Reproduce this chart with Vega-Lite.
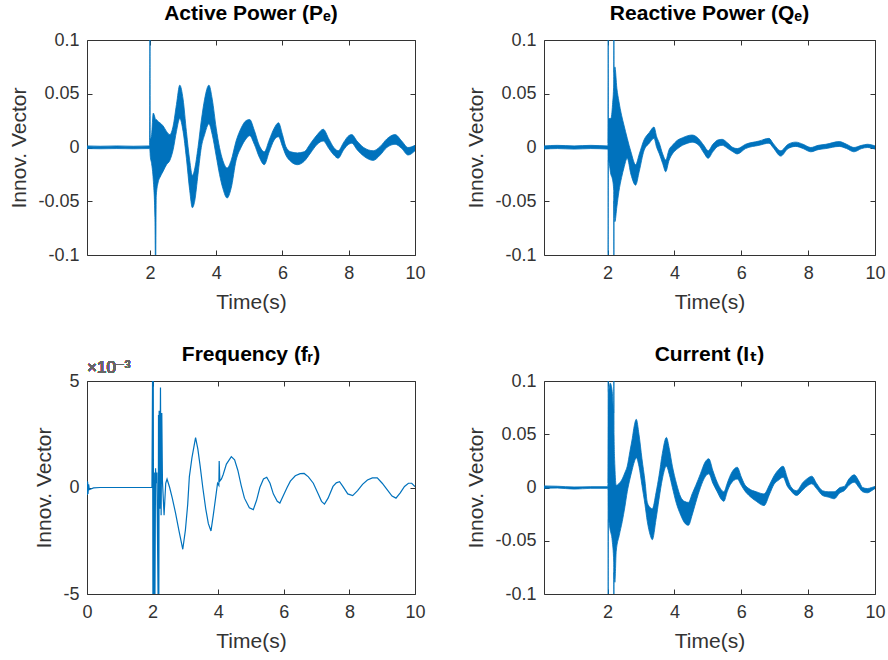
{
  "$schema": "https://vega.github.io/schema/vega-lite/v6.json",
  "padding": {"left": 8, "top": 2, "right": 0, "bottom": 0},
  "background": "white",
  "columns": 2,
  "spacing": {"row": 30, "column": 39},
  "datasets": {
    "P": [
      {"t":0.1,"lo":-0.001,"hi":0.0015},{"t":0.5,"lo":-0.0012,"hi":0.0012},{"t":1.0,"lo":-0.001,"hi":0.0015},{"t":1.5,"lo":-0.0012,"hi":0.0012},{"t":1.99,"lo":-0.001,"hi":0.0015},
      {"t":2.0,"lo":-0.003,"hi":0.12},{"t":2.01,"lo":-0.008,"hi":0.008},{"t":2.05,"lo":-0.015,"hi":0.012},{"t":2.1,"lo":-0.03,"hi":0.032},{"t":2.15,"lo":-0.065,"hi":0.028},
      {"t":2.17,"lo":-0.12,"hi":0.026},{"t":2.19,"lo":-0.045,"hi":0.026},{"t":2.25,"lo":-0.032,"hi":0.024},{"t":2.3,"lo":-0.028,"hi":0.023},{"t":2.4,"lo":-0.022,"hi":0.02},
      {"t":2.5,"lo":-0.016,"hi":0.015},{"t":2.6,"lo":-0.012,"hi":0.012},{"t":2.7,"lo":-0.002,"hi":0.02},{"t":2.8,"lo":0.015,"hi":0.04},{"t":2.9,"lo":0.027,"hi":0.058},
      {"t":3.0,"lo":0.015,"hi":0.045},{"t":3.1,"lo":-0.01,"hi":0.015},{"t":3.2,"lo":-0.04,"hi":-0.012},{"t":3.28,"lo":-0.056,"hi":-0.026},{"t":3.35,"lo":-0.05,"hi":-0.02},
      {"t":3.45,"lo":-0.025,"hi":0.0},{"t":3.55,"lo":0.0,"hi":0.025},{"t":3.65,"lo":0.012,"hi":0.045},{"t":3.78,"lo":0.022,"hi":0.058},{"t":3.88,"lo":0.012,"hi":0.045},
      {"t":4.0,"lo":-0.008,"hi":0.018},{"t":4.1,"lo":-0.025,"hi":0.0},{"t":4.2,"lo":-0.038,"hi":-0.012},{"t":4.33,"lo":-0.047,"hi":-0.019},{"t":4.45,"lo":-0.038,"hi":-0.012},
      {"t":4.6,"lo":-0.012,"hi":0.006},{"t":4.75,"lo":0.0,"hi":0.018},{"t":4.9,"lo":0.008,"hi":0.025},{"t":5.01,"lo":0.011,"hi":0.026},{"t":5.15,"lo":0.003,"hi":0.016},
      {"t":5.3,"lo":-0.009,"hi":0.002},{"t":5.45,"lo":-0.016,"hi":-0.004},{"t":5.6,"lo":-0.004,"hi":0.007},{"t":5.75,"lo":0.007,"hi":0.018},{"t":5.88,"lo":0.01,"hi":0.023},
      {"t":6.0,"lo":0.001,"hi":0.012},{"t":6.1,"lo":-0.007,"hi":0.001},{"t":6.25,"lo":-0.013,"hi":-0.004},{"t":6.45,"lo":-0.016,"hi":-0.005},{"t":6.65,"lo":-0.013,"hi":-0.004},
      {"t":6.85,"lo":-0.005,"hi":0.004},{"t":7.05,"lo":0.003,"hi":0.012},{"t":7.23,"lo":0.006,"hi":0.017},{"t":7.4,"lo":-0.001,"hi":0.008},{"t":7.55,"lo":-0.007,"hi":0.0},
      {"t":7.68,"lo":-0.01,"hi":-0.003},{"t":7.85,"lo":-0.002,"hi":0.005},{"t":8.0,"lo":0.003,"hi":0.011},{"t":8.09,"lo":0.004,"hi":0.012},{"t":8.25,"lo":-0.002,"hi":0.006},
      {"t":8.45,"lo":-0.008,"hi":0.0},{"t":8.74,"lo":-0.012,"hi":-0.003},{"t":8.95,"lo":-0.007,"hi":0.001},{"t":9.15,"lo":0.0,"hi":0.008},{"t":9.4,"lo":0.003,"hi":0.012},
      {"t":9.6,"lo":-0.001,"hi":0.006},{"t":9.79,"lo":-0.007,"hi":0.0},{"t":10.0,"lo":-0.003,"hi":0.002}
    ],
    "Q": [
      {"t":0.1,"lo":-0.0015,"hi":0.0015},{"t":0.5,"lo":-0.001,"hi":0.002},{"t":1.0,"lo":-0.0015,"hi":0.0015},{"t":1.5,"lo":-0.001,"hi":0.002},{"t":2.0,"lo":-0.0015,"hi":0.0015},
      {"t":2.015,"lo":-0.003,"hi":0.004},{"t":2.02,"lo":-0.12,"hi":0.12},{"t":2.025,"lo":-0.012,"hi":0.027},{"t":2.1,"lo":-0.025,"hi":0.027},{"t":2.15,"lo":-0.03,"hi":0.04},
      {"t":2.185,"lo":-0.04,"hi":0.06},{"t":2.19,"lo":-0.12,"hi":0.12},{"t":2.195,"lo":-0.05,"hi":0.07},{"t":2.22,"lo":-0.069,"hi":0.075},{"t":2.28,"lo":-0.055,"hi":0.055},
      {"t":2.34,"lo":-0.041,"hi":0.043},{"t":2.42,"lo":-0.028,"hi":0.03},{"t":2.49,"lo":-0.019,"hi":0.021},{"t":2.59,"lo":-0.01,"hi":0.0085},{"t":2.7,"lo":-0.025,"hi":-0.004},
      {"t":2.84,"lo":-0.035,"hi":-0.016},{"t":2.95,"lo":-0.022,"hi":-0.006},{"t":3.09,"lo":-0.003,"hi":0.007},{"t":3.25,"lo":0.004,"hi":0.014},{"t":3.39,"lo":0.0085,"hi":0.019},
      {"t":3.47,"lo":0.0,"hi":0.01},{"t":3.55,"lo":-0.006,"hi":0.004},{"t":3.65,"lo":-0.015,"hi":-0.006},{"t":3.74,"lo":-0.0225,"hi":-0.0116},{"t":3.84,"lo":-0.012,"hi":-0.002},
      {"t":3.94,"lo":-0.006,"hi":0.002},{"t":4.1,"lo":-0.001,"hi":0.007},{"t":4.24,"lo":0.002,"hi":0.009},{"t":4.4,"lo":0.004,"hi":0.011},{"t":4.53,"lo":0.005,"hi":0.0116},
      {"t":4.73,"lo":0.002,"hi":0.008},{"t":4.88,"lo":-0.005,"hi":0.002},{"t":5.01,"lo":-0.01,"hi":-0.003},{"t":5.15,"lo":-0.004,"hi":0.003},{"t":5.3,"lo":0.001,"hi":0.007},
      {"t":5.43,"lo":0.002,"hi":0.0076},{"t":5.6,"lo":-0.001,"hi":0.004},{"t":5.75,"lo":-0.004,"hi":0.0},{"t":5.88,"lo":-0.006,"hi":-0.001},{"t":6.13,"lo":-0.001,"hi":0.003},
      {"t":6.53,"lo":0.002,"hi":0.006},{"t":6.83,"lo":0.004,"hi":0.0085},{"t":6.95,"lo":0.0,"hi":0.004},{"t":7.18,"lo":-0.008,"hi":-0.003},{"t":7.4,"lo":-0.001,"hi":0.003},
      {"t":7.63,"lo":0.001,"hi":0.005},{"t":7.85,"lo":-0.001,"hi":0.003},{"t":8.08,"lo":-0.004,"hi":0.0},{"t":8.3,"lo":-0.002,"hi":0.002},{"t":8.53,"lo":-0.001,"hi":0.003},
      {"t":8.93,"lo":0.001,"hi":0.0055},{"t":9.15,"lo":-0.001,"hi":0.003},{"t":9.37,"lo":-0.004,"hi":0.0},{"t":9.6,"lo":-0.001,"hi":0.002},{"t":9.77,"lo":0.0,"hi":0.003},
      {"t":10.0,"lo":-0.0015,"hi":0.0015}
    ],
    "F": [
      {"t":0,"v":0.0003},{"t":0.01,"v":-0.00035},{"t":0.02,"v":0.00027},{"t":0.03,"v":-0.0003},{"t":0.05,"v":0.00015},{"t":0.07,"v":-0.0001},{"t":0.1,"v":-0.00008},{"t":0.2,"v":-0.00002},{"t":0.4,"v":0},{"t":1.0,"v":0},{"t":1.98,"v":0},
      {"t":2.0,"v":0.0055},{"t":2.01,"v":-0.0055},{"t":2.02,"v":0.0055},{"t":2.03,"v":-0.0055},{"t":2.05,"v":0.0007},{"t":2.07,"v":-0.0055},{"t":2.09,"v":0.0009},{"t":2.11,"v":0.0002},{"t":2.13,"v":0.0007},
      {"t":2.17,"v":-0.0055},{"t":2.18,"v":0.0034},{"t":2.19,"v":-0.0055},{"t":2.2,"v":0.0036},{"t":2.22,"v":-0.001},{"t":2.24,"v":0.0047},{"t":2.26,"v":-0.0013},{"t":2.28,"v":0.0035},{"t":2.3,"v":0.0003},
      {"t":2.35,"v":-0.0013},{"t":2.4,"v":0.0002},{"t":2.44,"v":0.0004},{"t":2.52,"v":0},{"t":2.6,"v":-0.0005},{"t":2.7,"v":-0.0012},{"t":2.8,"v":-0.002},{"t":2.92,"v":-0.0029},{"t":3.0,"v":-0.002},
      {"t":3.07,"v":-0.0008},{"t":3.12,"v":0.0005},{"t":3.2,"v":0.0014},{"t":3.31,"v":0.00234},{"t":3.38,"v":0.0018},{"t":3.45,"v":0.001},{"t":3.53,"v":0},{"t":3.62,"v":-0.001},{"t":3.7,"v":-0.0017},
      {"t":3.78,"v":-0.00204},{"t":3.85,"v":-0.0013},{"t":3.92,"v":-0.0005},{"t":3.98,"v":0.0002},{"t":4.02,"v":0.0001},{"t":4.03,"v":0.00124},{"t":4.05,"v":0.0003},{"t":4.1,"v":0.0004},{"t":4.15,"v":0.0006},
      {"t":4.25,"v":0.0011},{"t":4.4,"v":0.00145},{"t":4.5,"v":0.0013},{"t":4.6,"v":0.0008},{"t":4.7,"v":0.0001},{"t":4.8,"v":-0.0005},{"t":4.95,"v":-0.00095},{"t":5.07,"v":-0.00104},{"t":5.17,"v":-0.0006},
      {"t":5.27,"v":0},{"t":5.38,"v":0.0004},{"t":5.48,"v":0.00048},{"t":5.58,"v":0.0002},{"t":5.68,"v":-0.0003},{"t":5.8,"v":-0.00065},{"t":5.88,"v":-0.00073},{"t":5.98,"v":-0.0004},{"t":6.1,"v":0},
      {"t":6.2,"v":0.0003},{"t":6.35,"v":0.00055},{"t":6.5,"v":0.00065},{"t":6.62,"v":0.00066},{"t":6.75,"v":0.0005},{"t":6.9,"v":0.0002},{"t":7.05,"v":-0.0003},{"t":7.15,"v":-0.00065},{"t":7.24,"v":-0.00078},
      {"t":7.35,"v":-0.0005},{"t":7.5,"v":0.00005},{"t":7.6,"v":0.00022},{"t":7.7,"v":0.00027},{"t":7.8,"v":0.00005},{"t":7.95,"v":-0.0003},{"t":8.1,"v":-0.00038},{"t":8.25,"v":-0.00015},{"t":8.4,"v":0.00015},
      {"t":8.55,"v":0.00035},{"t":8.7,"v":0.00045},{"t":8.85,"v":0.00045},{"t":9.0,"v":0.0002},{"t":9.15,"v":-0.0001},{"t":9.3,"v":-0.0004},{"t":9.42,"v":-0.0005},{"t":9.55,"v":-0.00025},{"t":9.68,"v":0.00005},
      {"t":9.8,"v":0.0002},{"t":9.9,"v":0.0002},{"t":10.0,"v":0.00004}
    ],
    "I": [
      {"t":0.1,"lo":-0.0008,"hi":0.0015},{"t":0.5,"lo":-0.0005,"hi":0.0012},{"t":1.0,"lo":-0.0015,"hi":0.0005},{"t":1.5,"lo":-0.0008,"hi":0.0008},{"t":2.0,"lo":-0.0008,"hi":0.0008},
      {"t":2.015,"lo":-0.003,"hi":0.004},{"t":2.02,"lo":-0.12,"hi":0.12},{"t":2.025,"lo":-0.03,"hi":0.09},{"t":2.08,"lo":-0.04,"hi":0.098},{"t":2.14,"lo":-0.05,"hi":0.09},
      {"t":2.185,"lo":-0.07,"hi":0.07},{"t":2.19,"lo":-0.12,"hi":0.12},{"t":2.195,"lo":-0.08,"hi":0.05},{"t":2.22,"lo":-0.089,"hi":0.02},{"t":2.26,"lo":-0.06,"hi":0.002},
      {"t":2.35,"lo":-0.045,"hi":0.004},{"t":2.44,"lo":-0.032,"hi":0.008},{"t":2.52,"lo":-0.018,"hi":0.014},{"t":2.59,"lo":-0.004,"hi":0.02},{"t":2.67,"lo":0.008,"hi":0.034},
      {"t":2.74,"lo":0.017,"hi":0.046},{"t":2.8,"lo":0.024,"hi":0.058},{"t":2.86,"lo":0.028,"hi":0.064},{"t":2.94,"lo":0.02,"hi":0.05},{"t":3.03,"lo":0.002,"hi":0.027},
      {"t":3.12,"lo":-0.016,"hi":0.006},{"t":3.19,"lo":-0.032,"hi":-0.014},{"t":3.28,"lo":-0.045,"hi":-0.019},{"t":3.34,"lo":-0.049,"hi":-0.02},{"t":3.45,"lo":-0.03,"hi":-0.005},
      {"t":3.54,"lo":-0.011,"hi":0.011},{"t":3.64,"lo":0.008,"hi":0.032},{"t":3.76,"lo":0.02,"hi":0.047},{"t":3.85,"lo":0.012,"hi":0.036},{"t":3.94,"lo":0.0,"hi":0.02},
      {"t":4.06,"lo":-0.015,"hi":0.004},{"t":4.19,"lo":-0.026,"hi":-0.009},{"t":4.3,"lo":-0.033,"hi":-0.013},{"t":4.42,"lo":-0.0355,"hi":-0.014},{"t":4.53,"lo":-0.026,"hi":-0.006},
      {"t":4.64,"lo":-0.014,"hi":0.002},{"t":4.78,"lo":0.0,"hi":0.013},{"t":4.92,"lo":0.01,"hi":0.024},{"t":5.03,"lo":0.0128,"hi":0.027},{"t":5.15,"lo":0.004,"hi":0.016},
      {"t":5.28,"lo":-0.004,"hi":0.005},{"t":5.4,"lo":-0.011,"hi":-0.002},{"t":5.48,"lo":-0.013,"hi":-0.004},{"t":5.58,"lo":-0.004,"hi":0.004},{"t":5.68,"lo":0.003,"hi":0.012},
      {"t":5.88,"lo":0.008,"hi":0.019},{"t":6.0,"lo":0.002,"hi":0.01},{"t":6.1,"lo":-0.003,"hi":0.003},{"t":6.23,"lo":-0.0075,"hi":-0.001},{"t":6.45,"lo":-0.013,"hi":-0.004},
      {"t":6.68,"lo":-0.017,"hi":-0.006},{"t":6.85,"lo":-0.006,"hi":0.003},{"t":6.98,"lo":0.003,"hi":0.011},{"t":7.12,"lo":0.007,"hi":0.017},{"t":7.25,"lo":0.0096,"hi":0.02},
      {"t":7.38,"lo":0.001,"hi":0.009},{"t":7.48,"lo":-0.003,"hi":0.001},{"t":7.65,"lo":-0.0075,"hi":-0.003},{"t":7.85,"lo":-0.002,"hi":0.005},{"t":8.0,"lo":0.002,"hi":0.009},
      {"t":8.11,"lo":0.0035,"hi":0.0106},{"t":8.25,"lo":-0.001,"hi":0.004},{"t":8.43,"lo":-0.0075,"hi":-0.003},{"t":8.6,"lo":-0.009,"hi":-0.004},{"t":8.78,"lo":-0.0106,"hi":-0.004},
      {"t":8.95,"lo":-0.005,"hi":0.0},{"t":9.08,"lo":-0.003,"hi":0.001},{"t":9.22,"lo":0.002,"hi":0.008},{"t":9.38,"lo":0.005,"hi":0.0119},{"t":9.52,"lo":0.0,"hi":0.006},
      {"t":9.63,"lo":-0.004,"hi":0.0},{"t":9.77,"lo":-0.005,"hi":-0.001},{"t":9.9,"lo":-0.003,"hi":0.0},{"t":10.0,"lo":-0.001,"hi":0.001}
    ]
  },
  "concat": [
    {
      "width": 328, "height": 215,
      "title": {"text": "Active Power (Pₑ)"},
      "data": {"name": "P"},
      "resolve": {"axis": {"x": "independent", "y": "independent"}},
      "layer": [
        {
          "mark": {"type": "area", "clip": true, "color": "#0072BD", "stroke": "#0072BD", "strokeWidth": 0.8, "interpolate": "monotone"},
          "encoding": {
            "x": {"field": "t", "type": "quantitative", "scale": {"domain": [0.1, 10], "nice": false, "zero": false}, "axis": {"values": [2, 4, 6, 8, 10], "title": "Time(s)"}},
            "y": {"field": "lo", "type": "quantitative", "scale": {"domain": [-0.1, 0.1], "nice": false}, "axis": {"values": [-0.1, -0.05, 0, 0.05, 0.1], "title": "Innov. Vector", "labelExpr": "toString(datum.value)"}},
            "y2": {"field": "hi"}
          }
        },
        {
          "mark": {"type": "point", "opacity": 0, "clip": true},
          "encoding": {
            "x": {"field": "t", "type": "quantitative", "scale": {"domain": [0.1, 10], "nice": false, "zero": false}, "axis": {"orient": "top", "values": [2, 4, 6, 8, 10], "labels": false, "title": null}},
            "y": {"field": "lo", "type": "quantitative", "scale": {"domain": [-0.1, 0.1], "nice": false}, "axis": {"orient": "right", "values": [-0.1, -0.05, 0, 0.05, 0.1], "labels": false, "title": null}}
          }
        }
      ]
    },
    {
      "width": 331, "height": 215,
      "title": {"text": "Reactive Power (Qₑ)"},
      "data": {"name": "Q"},
      "resolve": {"axis": {"x": "independent", "y": "independent"}},
      "layer": [
        {
          "mark": {"type": "area", "clip": true, "color": "#0072BD", "stroke": "#0072BD", "strokeWidth": 0.8, "interpolate": "monotone"},
          "encoding": {
            "x": {"field": "t", "type": "quantitative", "scale": {"domain": [0.1, 10], "nice": false, "zero": false}, "axis": {"values": [2, 4, 6, 8, 10], "title": "Time(s)"}},
            "y": {"field": "lo", "type": "quantitative", "scale": {"domain": [-0.1, 0.1], "nice": false}, "axis": {"values": [-0.1, -0.05, 0, 0.05, 0.1], "title": "Innov. Vector", "labelExpr": "toString(datum.value)"}},
            "y2": {"field": "hi"}
          }
        },
        {
          "mark": {"type": "point", "opacity": 0, "clip": true},
          "encoding": {
            "x": {"field": "t", "type": "quantitative", "scale": {"domain": [0.1, 10], "nice": false, "zero": false}, "axis": {"orient": "top", "values": [2, 4, 6, 8, 10], "labels": false, "title": null}},
            "y": {"field": "lo", "type": "quantitative", "scale": {"domain": [-0.1, 0.1], "nice": false}, "axis": {"orient": "right", "values": [-0.1, -0.05, 0, 0.05, 0.1], "labels": false, "title": null}}
          }
        }
      ]
    },
    {
      "width": 328, "height": 213,
      "title": {"text": "Frequency (fᵣ)", "offset": -6},
      "data": {"name": "F"},
      "resolve": {"axis": {"x": "independent", "y": "independent"}},
      "layer": [
        {
          "mark": {"type": "line", "clip": true, "color": "#0072BD", "strokeWidth": 1.2},
          "encoding": {
            "x": {"field": "t", "type": "quantitative", "scale": {"domain": [0, 10], "nice": false, "zero": false}, "axis": {"values": [0, 2, 4, 6, 8, 10], "title": "Time(s)"}},
            "y": {"field": "v", "type": "quantitative", "scale": {"domain": [-0.005, 0.005], "nice": false}, "axis": {"values": [-0.005, 0, 0.005], "title": "Innov. Vector", "labelExpr": "toString(round(datum.value * 1000))"}}
          }
        },
        {
          "mark": {"type": "point", "opacity": 0, "clip": true},
          "encoding": {
            "x": {"field": "t", "type": "quantitative", "scale": {"domain": [0, 10], "nice": false, "zero": false}, "axis": {"orient": "top", "values": [0, 2, 4, 6, 8, 10], "labels": false, "title": null}},
            "y": {"field": "v", "type": "quantitative", "scale": {"domain": [-0.005, 0.005], "nice": false}, "axis": {"orient": "right", "values": [-0.005, 0, 0.005], "labels": false, "title": null}}
          }
        },
        {
          "mark": {"type": "text", "text": "×10⁻³", "align": "left", "baseline": "bottom", "dy": -4, "fontSize": 17, "fontWeight": "normal", "font": "Liberation Sans, DejaVu Sans", "color": "#666666"},
          "encoding": {
            "x": {"datum": 0, "type": "quantitative", "axis": null},
            "y": {"datum": 0.005, "type": "quantitative", "axis": null}
          }
        }
      ]
    },
    {
      "width": 331, "height": 213,
      "title": {"text": "Current (Iₜ)"},
      "data": {"name": "I"},
      "resolve": {"axis": {"x": "independent", "y": "independent"}},
      "layer": [
        {
          "mark": {"type": "area", "clip": true, "color": "#0072BD", "stroke": "#0072BD", "strokeWidth": 0.8, "interpolate": "monotone"},
          "encoding": {
            "x": {"field": "t", "type": "quantitative", "scale": {"domain": [0.1, 10], "nice": false, "zero": false}, "axis": {"values": [2, 4, 6, 8, 10], "title": "Time(s)"}},
            "y": {"field": "lo", "type": "quantitative", "scale": {"domain": [-0.1, 0.1], "nice": false}, "axis": {"values": [-0.1, -0.05, 0, 0.05, 0.1], "title": "Innov. Vector", "labelExpr": "toString(datum.value)"}},
            "y2": {"field": "hi"}
          }
        },
        {
          "mark": {"type": "point", "opacity": 0, "clip": true},
          "encoding": {
            "x": {"field": "t", "type": "quantitative", "scale": {"domain": [0.1, 10], "nice": false, "zero": false}, "axis": {"orient": "top", "values": [2, 4, 6, 8, 10], "labels": false, "title": null}},
            "y": {"field": "lo", "type": "quantitative", "scale": {"domain": [-0.1, 0.1], "nice": false}, "axis": {"orient": "right", "values": [-0.1, -0.05, 0, 0.05, 0.1], "labels": false, "title": null}}
          }
        }
      ]
    }
  ],
  "config": {
    "view": {"stroke": "#333333", "strokeWidth": 1},
    "axis": {
      "labelFont": "Liberation Sans", "labelFontSize": 18, "labelColor": "#333333",
      "titleFont": "Liberation Sans", "titleFontSize": 21, "titleFontWeight": "normal", "titleColor": "#333333",
      "domain": false, "grid": false, "tickSize": -5, "tickColor": "#333333", "labelFlush": false
    },
    "axisX": {"labelPadding": 14, "titlePadding": 9},
    "axisY": {"labelPadding": 13, "titlePadding": 8},
    "title": {"font": "Liberation Sans, DejaVu Sans", "fontSize": 21, "fontWeight": "bold", "color": "#000000", "frame": "group", "anchor": "middle", "offset": 7}
  }
}
